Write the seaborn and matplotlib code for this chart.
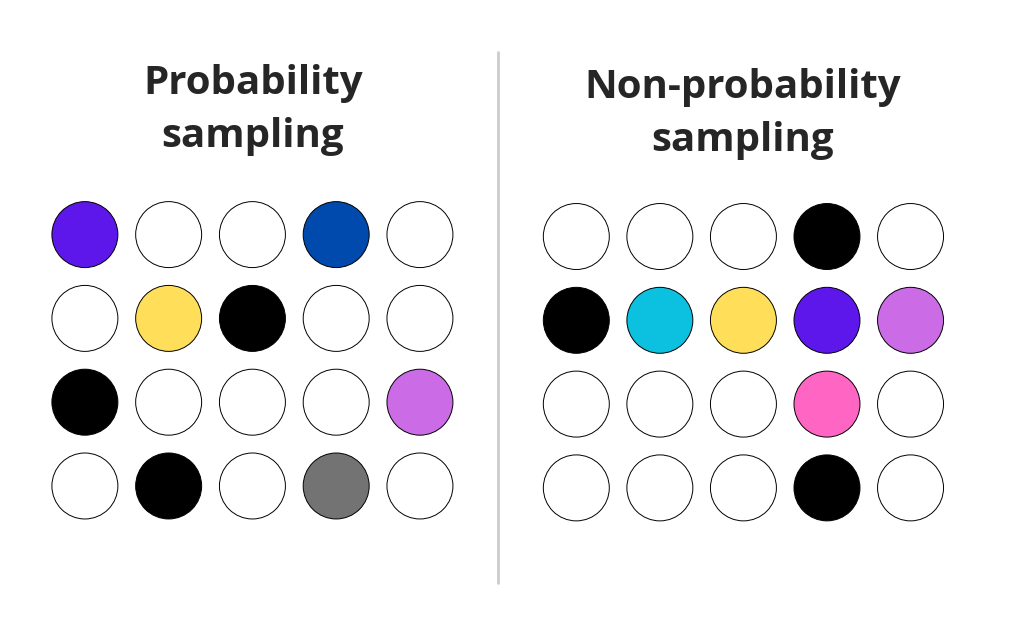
import numpy as np
import pandas as pd
import seaborn as sns
import matplotlib.pyplot as plt
from matplotlib.lines import Line2D

sns.set_style('white')
plt.rcParams['font.family'] = ['Open Sans', 'DejaVu Sans']

W = '#FFFFFF'
cores_esq = [['#5E17EB', W, W, '#004AAD', W],
             [W, '#FFDE59', '#000000', W, W],
             ['#000000', W, W, W, '#CB6CE6'],
             [W, '#000000', W, '#737373', W]]
cores_dir = [[W, W, W, '#000000', W],
             ['#000000', '#0CC0DF', '#FFDE59', '#5E17EB', '#CB6CE6'],
             [W, W, W, '#FF66C4', W],
             [W, W, W, '#000000', W]]
titulos = ['Probability\nsampling', 'Non-probability\nsampling']


def grade(cores):
    linhas = []
    for i, linha in enumerate(cores):
        for j, c in enumerate(linha):
            linhas.append({'col': j, 'lin': i, 'cor': c})
    return pd.DataFrame(linhas)


fig = plt.figure(figsize=(10.24, 6.36), dpi=100)
posicoes = [[0.042, 0.170, 0.409, 0.527], [0.522, 0.167, 0.408, 0.527]]
centros_x = [253 / 1024, 743 / 1024]
titulo_y = [1 - 110 / 636, 1 - 114 / 636]

for pos, cores, tit, cx, ty in zip(posicoes, [cores_esq, cores_dir], titulos, centros_x, titulo_y):
    ax = fig.add_axes(pos)
    df = grade(cores)
    sns.scatterplot(data=df, x='col', y='lin', c=df['cor'], s=2256,
                    edgecolor='black', linewidth=0.7, ax=ax, legend=False)
    ax.set_xlim(-0.5, 4.5)
    ax.set_ylim(3.5, -0.5)
    ax.axis('off')
    fig.text(cx, ty, tit, ha='center', va='center', fontsize=29,
             fontweight='bold', linespacing=1.45)

fig.add_artist(Line2D([498 / 1024, 498 / 1024], [1 - 52 / 636, 1 - 583 / 636],
                      color='#CCCCCC', linewidth=2))

fig.savefig('out.png', dpi=100, facecolor='white')
